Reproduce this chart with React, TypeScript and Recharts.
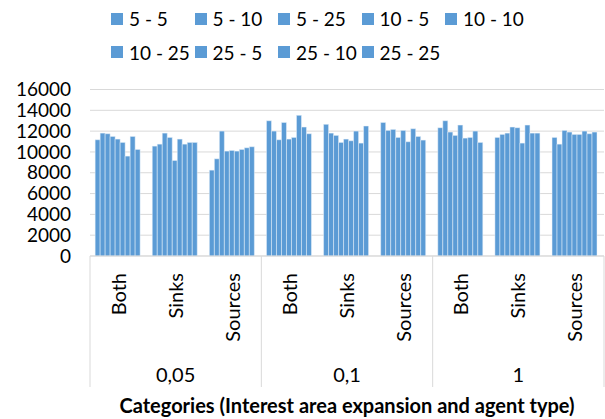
import React from 'react';
import {
  BarChart,
  Bar,
  XAxis,
  YAxis,
  CartesianGrid,
  Legend,
} from 'recharts';

const subCategories = ['Both', 'Sinks', 'Sources', 'Both', 'Sinks', 'Sources', 'Both', 'Sinks', 'Sources'];
const groups = ['0,05', '0,05', '0,05', '0,1', '0,1', '0,1', '1', '1', '1'];

const seriesNames = ['5 - 5', '5 - 10', '5 - 25', '10 - 5', '10 - 10', '10 - 25', '25 - 5', '25 - 10', '25 - 25'];

const s5_5 = [11170, 10560, 8250, 13000, 12650, 12840, 12330, 11395, 11395];
const s5_10 = [11810, 10750, 9340, 12005, 11810, 12070, 13000, 11685, 10750];
const s5_25 = [11750, 11810, 12005, 11170, 11590, 12165, 11910, 11810, 12070];
const s10_5 = [11490, 11395, 10080, 12840, 10915, 11395, 11590, 12390, 11910];
const s10_10 = [11235, 9180, 10145, 11235, 11235, 12070, 12580, 12330, 11685];
const s10_25 = [10915, 11235, 10080, 11395, 11075, 10980, 11330, 10850, 11685];
const s25_5 = [9600, 10750, 10240, 13515, 12005, 12230, 11395, 12580, 12005];
const s25_10 = [11490, 10915, 10400, 12390, 10850, 11490, 12005, 11810, 11750];
const s25_25 = [10240, 10915, 10500, 11750, 12490, 11140, 10915, 11810, 11910];

const seriesValues = [s5_5, s5_10, s5_25, s10_5, s10_10, s10_25, s25_5, s25_10, s25_25];

const yTicks = [0, 2000, 4000, 6000, 8000, 10000, 12000, 14000, 16000];

const BAR_COLOR = '#5B9BD5';
const GRID_COLOR = '#D9D9D9';
const FONT = 'Lato, "Liberation Sans", sans-serif';

const WIDTH = 605;
const HEIGHT = 419;
const Y_AXIS_WIDTH = 90;
const MARGIN = { top: 23.5, right: 1, bottom: 0, left: 0 };
const PLOT_WIDTH = WIDTH - Y_AXIS_WIDTH - MARGIN.left - MARGIN.right;
const BAND = PLOT_WIDTH / subCategories.length;

const data = subCategories.map((sub, i) => {
  const row: Record<string, string | number> = { sub, group: groups[i] };
  seriesNames.forEach((name, s) => {
    row[name] = seriesValues[s][i];
  });
  return row;
});

// two level category axis: rotated sub labels, group labels and separators
const CategoryTick = (props: any) => {
  const { x, y, payload, index } = props;
  const last = index === subCategories.length - 1;
  const groupStart = index === 0 || groups[index] !== groups[index - 1];
  const groupMiddle = index % 3 === 1;
  return (
    <g>
      <text
        transform={`translate(${x},${y + 17}) rotate(-90)`}
        textAnchor="end"
        dy="0.35em"
        fontSize={20}
        fontFamily={FONT}
        fill="#000"
      >
        {payload.value}
      </text>
      {groupMiddle && (
        <text x={x} y={y + 119} textAnchor="middle" dy="0.35em" fontSize={20} fontFamily={FONT} fill="#000">
          {groups[index]}
        </text>
      )}
      {groupStart && (
        <line x1={x - BAND / 2} x2={x - BAND / 2} y1={y} y2={y + 131} stroke={GRID_COLOR} />
      )}
      {last && (
        <line x1={x + BAND / 2} x2={x + BAND / 2} y1={y} y2={y + 131} stroke={GRID_COLOR} />
      )}
    </g>
  );
};

const LegendContent = () => (
  <div
    style={{
      height: 66,
      display: 'grid',
      gridTemplateColumns: 'repeat(5, 83.5px)',
      gridAutoRows: '33.5px',
      paddingLeft: 111,
      paddingTop: 2,
      boxSizing: 'border-box',
      fontFamily: FONT,
      fontSize: 19,
      color: '#000',
    }}
  >
    {seriesNames.map((name) => (
      <div key={name} style={{ display: 'flex', alignItems: 'center', whiteSpace: 'nowrap' }}>
        <span style={{ width: 12, height: 12, background: BAR_COLOR, marginRight: 6, flex: 'none' }} />
        <span>{name}</span>
      </div>
    ))}
  </div>
);

export default function App() {
  return (
    <div style={{ position: 'absolute', left: 0, top: 0, background: '#fff' }}>
      <BarChart
        width={WIDTH}
        height={HEIGHT}
        data={data}
        margin={MARGIN}
        barCategoryGap="9%"
        barGap={0}
      >
        <CartesianGrid vertical={false} stroke={GRID_COLOR} />
        <Legend
          verticalAlign="top"
          align="left"
          content={<LegendContent />}
          wrapperStyle={{ top: 0, left: 0, width: WIDTH }}
        />
        <XAxis
          dataKey="sub"
          height={HEIGHT - 256}
          interval={0}
          tickLine={false}
          tickSize={0}
          tickMargin={0}
          axisLine={{ stroke: GRID_COLOR }}
          tick={<CategoryTick />}
          label={{
            value: 'Categories (Interest area expansion and agent type)',
            position: 'insideBottom',
            offset: 6,
            fontSize: 20,
            fontWeight: 'bold',
            fontFamily: FONT,
            fill: '#000',
          }}
        />
        <YAxis
          width={Y_AXIS_WIDTH}
          domain={[0, 16000]}
          ticks={yTicks}
          interval={0}
          axisLine={false}
          tickLine={false}
          tickSize={0}
          tickMargin={19}
          tick={{ fontSize: 19, fontFamily: FONT, fill: '#000' }}
        />
        {seriesNames.map((name) => (
          <Bar
            key={name}
            dataKey={name}
            fill={BAR_COLOR}
            stroke="#EAF2FA"
            strokeWidth={0.5}
            isAnimationActive={false}
          />
        ))}
      </BarChart>
    </div>
  );
}
